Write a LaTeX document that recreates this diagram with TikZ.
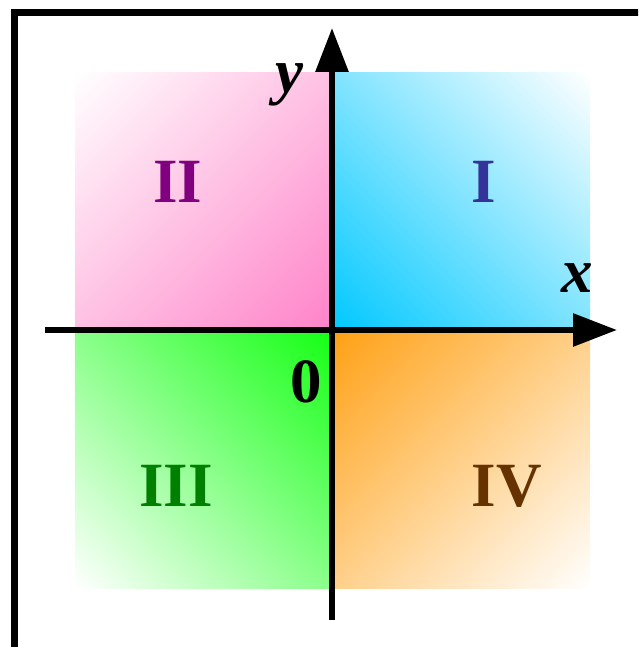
\documentclass[tikz,border=0pt]{standalone}
\usepackage{fontspec}
\setmainfont{Liberation Serif}
\usetikzlibrary{arrows.meta,shadings}
\definecolor{fillI}{RGB}{0,200,255}
\definecolor{fillII}{RGB}{255,130,200}
\definecolor{fillIII}{RGB}{20,255,20}
\definecolor{fillIV}{RGB}{255,160,20}
\definecolor{textI}{RGB}{51,51,153}
\definecolor{textII}{RGB}{128,0,128}
\definecolor{textIII}{RGB}{0,128,0}
\definecolor{textIV}{RGB}{102,51,0}
\tikzset{
  axis/.style={-{Triangle[length=22pt,width=16pt]}, line width=3pt},
  frame/.style={line width=3.5pt},
  quad label/.style={font=\fontsize{31.5}{31.5}\selectfont\bfseries},
  axis label/.style={font=\fontsize{31.5}{31.5}\selectfont\bfseries\itshape},
}

\begin{document}
\begin{tikzpicture}[x=0.5pt, y=0.5pt]
  \useasboundingbox (-332,-317) rectangle (306,330);
  \clip (-332,-317) rectangle (306,330);

  % Frame
  \draw[frame] (-317,-320) rectangle (312,317);

  % Shaded quadrants
  \shade[lower left=fillI, upper right=white,
    lower right=fillI!50!white, upper left=fillI!50!white]
    (0,0) rectangle (258,257);
  \shade[lower right=fillII, upper left=white,
    lower left=fillII!50!white, upper right=fillII!50!white]
    (-257,0) rectangle (0,257);
  \shade[upper right=fillIII, lower left=white,
    lower right=fillIII!50!white, upper left=fillIII!50!white]
    (-257,-258) rectangle (0,0);
  \shade[upper left=fillIV, lower right=white,
    lower left=fillIV!50!white, upper right=fillIV!50!white]
    (0,-258) rectangle (258,0);

  % Quadrant numbers
  \node[quad label, text=textI] (qI) at (152,148) {I};
  \node[quad label, text=textII] (qII) at (-154,148) {II};
  \node[quad label, text=textIII] (qIII) at (-156,-156) {III};
  \node[quad label, text=textIV] (qIV) at (175,-156) {IV};

  % Axes
  \coordinate (xstart) at (-287,0);
  \coordinate (xend) at (285,0);
  \coordinate (ystart) at (0,-290);
  \coordinate (yend) at (0,302);
  \draw[axis] (xstart) -- (xend);
  \draw[axis] (ystart) -- (yend);

  % Axis labels
  \node[axis label] (xlab) at (245,52) {x};
  \node[axis label] (ylab) at (-43,245) {y};
  \node[quad label] (zero) at (-26,-52) {0};
\end{tikzpicture}
\end{document}
